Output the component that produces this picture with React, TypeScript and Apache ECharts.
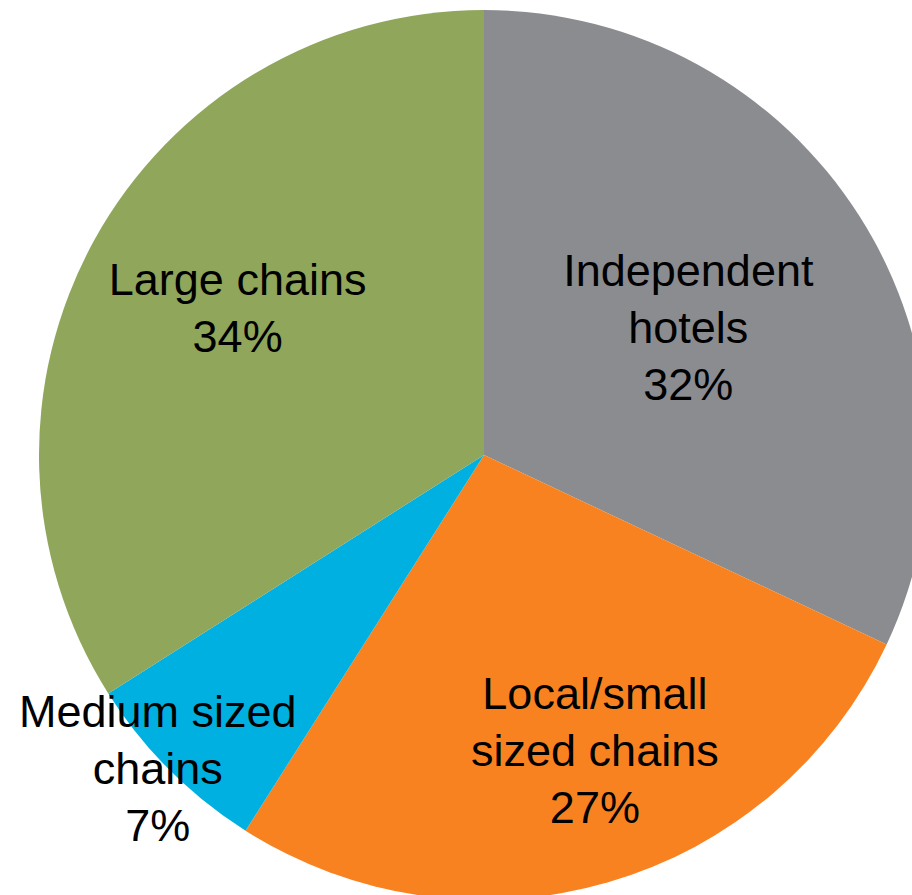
import React, { useEffect, useRef } from "react";
import * as echarts from "echarts";

const categories = ["Independent\nhotels", "Local/small\nsized chains", "Medium sized\nchains", "Large chains"];
const values = [32, 27, 7, 34];
const colors = ["#8B8C90", "#F98220", "#00B0E0", "#8FA65B"];
const labelRadius = [242, 315, 450, 288];
const labelShift = [
  [0, 2],
  [23, -7],
  [-8, -5],
  [6, -8],
];

export default function App() {
  const ref = useRef<HTMLDivElement>(null);
  useEffect(() => {
    document.body.style.margin = "0";
    const chart = echarts.init(ref.current!, null, { renderer: "svg" });
    const cx = 484;
    const cy = 455;
    const total = values.reduce((a, b) => a + b, 0);
    const mids: number[] = [];
    let acc = 0;
    values.forEach((v) => {
      mids.push(((acc + v / 2) / total) * Math.PI * 2);
      acc += v;
    });
    chart.setOption({
      animation: false,
      backgroundColor: "#ffffff",
      series: [
        {
          type: "pie",
          center: [cx, cy],
          radius: [0, 445],
          startAngle: 90,
          clockwise: true,
          avoidLabelOverlap: false,
          itemStyle: { borderWidth: 0 },
          label: {
            show: true,
            position: "inside",
            formatter: "{b}\n{c}%",
            color: "#000000",
            fontFamily: "Liberation Sans",
            fontSize: 45,
            lineHeight: 57,
            align: "center",
          },
          labelLine: { show: false },
          labelLayout: (params: any) => {
            const i = params.dataIndex;
            const a = mids[i];
            return {
              x: cx + labelRadius[i] * Math.sin(a) + labelShift[i][0],
              y: cy - labelRadius[i] * Math.cos(a) + labelShift[i][1],
              align: "center",
              verticalAlign: "middle",
            };
          },
          data: categories.map((name, i) => ({
            name,
            value: values[i],
            itemStyle: { color: colors[i] },
          })),
        },
      ],
    });
    return () => chart.dispose();
  }, []);
  return <div ref={ref} style={{ width: 912, height: 895 }} />;
}
